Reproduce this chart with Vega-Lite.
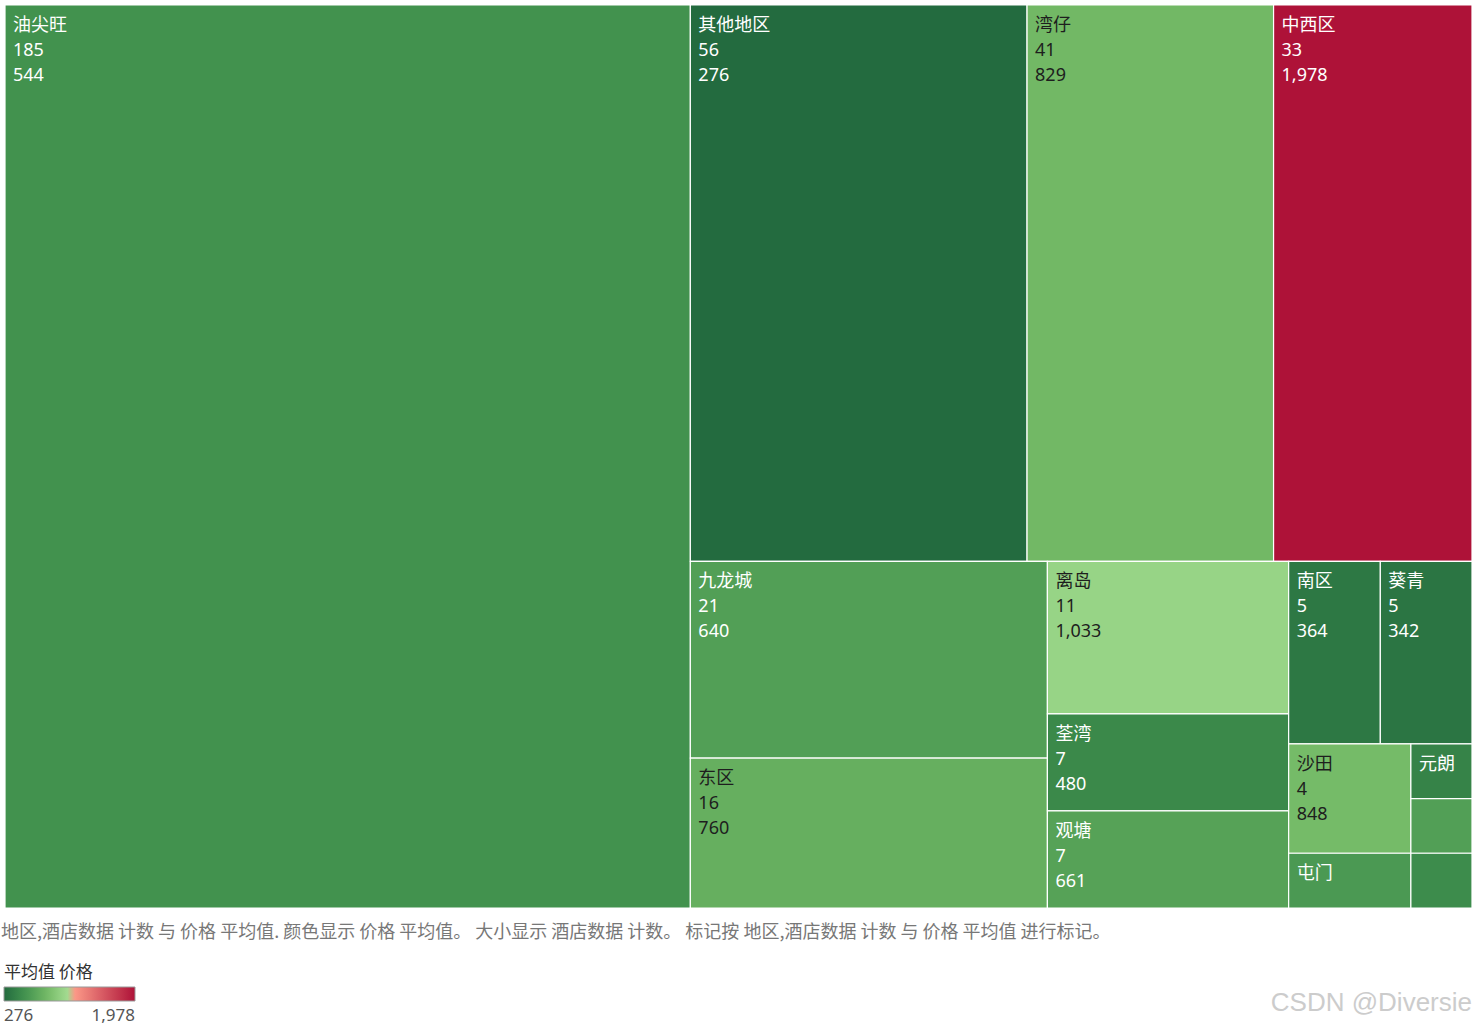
{
  "$schema": "https://vega.github.io/schema/vega-lite/v6.json",
  "width": 1467,
  "height": 903,
  "autosize": {"type": "none"},
  "padding": {"left": 5, "top": 5, "right": 4, "bottom": 121},
  "background": "white",
  "config": {"view": {"stroke": null}},
  "data": {
    "values": [
      {"order": 1, "k1": "A", "k2": "A", "k3": "A", "k4": "A", "k5": "A", "k6": "A", "region": "油尖旺", "count": 185, "price": 544},
      {"order": 2, "k1": "R", "k2": "T", "k3": "其他地区", "k4": "x", "k5": "x", "k6": "x", "region": "其他地区", "count": 56, "price": 276},
      {"order": 3, "k1": "R", "k2": "T", "k3": "湾仔", "k4": "x", "k5": "x", "k6": "x", "region": "湾仔", "count": 41, "price": 829},
      {"order": 4, "k1": "R", "k2": "T", "k3": "中西区", "k4": "x", "k5": "x", "k6": "x", "region": "中西区", "count": 33, "price": 1978},
      {"order": 5, "k1": "R", "k2": "B", "k3": "CA", "k4": "九龙城", "k5": "x", "k6": "x", "region": "九龙城", "count": 21, "price": 640},
      {"order": 6, "k1": "R", "k2": "B", "k3": "CA", "k4": "东区", "k5": "x", "k6": "x", "region": "东区", "count": 16, "price": 760},
      {"order": 7, "k1": "R", "k2": "B", "k3": "CB", "k4": "离岛", "k5": "x", "k6": "x", "region": "离岛", "count": 11, "price": 1033},
      {"order": 8, "k1": "R", "k2": "B", "k3": "CB", "k4": "荃湾", "k5": "x", "k6": "x", "region": "荃湾", "count": 7, "price": 480},
      {"order": 9, "k1": "R", "k2": "B", "k3": "CB", "k4": "观塘", "k5": "x", "k6": "x", "region": "观塘", "count": 7, "price": 661},
      {"order": 10, "k1": "R", "k2": "B", "k3": "CC", "k4": "C1", "k5": "南区", "k6": "x", "region": "南区", "count": 5, "price": 364},
      {"order": 11, "k1": "R", "k2": "B", "k3": "CC", "k4": "C1", "k5": "葵青", "k6": "x", "region": "葵青", "count": 5, "price": 342},
      {"order": 12, "k1": "R", "k2": "B", "k3": "CC", "k4": "C2", "k5": "C2a", "k6": "沙田", "region": "沙田", "count": 4, "price": 848},
      {"order": 13, "k1": "R", "k2": "B", "k3": "CC", "k4": "C2", "k5": "C2a", "k6": "屯门", "region": "屯门", "count": 2, "price": 600},
      {"order": 14, "k1": "R", "k2": "B", "k3": "CC", "k4": "C2", "k5": "C2b", "k6": "元朗", "region": "元朗", "count": 1, "price": 440},
      {"order": 15, "k1": "R", "k2": "B", "k3": "CC", "k4": "C2", "k5": "C2b", "k6": "深水埗", "region": "深水埗", "count": 1, "price": 640},
      {"order": 16, "k1": "R", "k2": "B", "k3": "CC", "k4": "C2", "k5": "C2b", "k6": "黄大仙", "region": "黄大仙", "count": 1, "price": 500}
    ]
  },
  "transform": [
    {"joinaggregate": [{"op": "sum", "field": "count", "as": "t0"}]},
    {"joinaggregate": [{"op": "sum", "field": "count", "as": "t1"}], "groupby": ["k1"]},
    {"window": [{"op": "sum", "field": "count", "as": "w1"}], "sort": [{"field": "order"}], "frame": [null, 0]},
    {"joinaggregate": [{"op": "max", "field": "w1", "as": "e1"}], "groupby": ["k1"]},
    {"joinaggregate": [{"op": "sum", "field": "count", "as": "t2"}], "groupby": ["k1", "k2"]},
    {"window": [{"op": "sum", "field": "count", "as": "w2"}], "groupby": ["k1"], "sort": [{"field": "order"}], "frame": [null, 0]},
    {"joinaggregate": [{"op": "max", "field": "w2", "as": "e2"}], "groupby": ["k1", "k2"]},
    {"joinaggregate": [{"op": "sum", "field": "count", "as": "t3"}], "groupby": ["k1", "k2", "k3"]},
    {"window": [{"op": "sum", "field": "count", "as": "w3"}], "groupby": ["k1", "k2"], "sort": [{"field": "order"}], "frame": [null, 0]},
    {"joinaggregate": [{"op": "max", "field": "w3", "as": "e3"}], "groupby": ["k1", "k2", "k3"]},
    {"joinaggregate": [{"op": "sum", "field": "count", "as": "t4"}], "groupby": ["k1", "k2", "k3", "k4"]},
    {"window": [{"op": "sum", "field": "count", "as": "w4"}], "groupby": ["k1", "k2", "k3"], "sort": [{"field": "order"}], "frame": [null, 0]},
    {"joinaggregate": [{"op": "max", "field": "w4", "as": "e4"}], "groupby": ["k1", "k2", "k3", "k4"]},
    {"joinaggregate": [{"op": "sum", "field": "count", "as": "t5"}], "groupby": ["k1", "k2", "k3", "k4", "k5"]},
    {"window": [{"op": "sum", "field": "count", "as": "w5"}], "groupby": ["k1", "k2", "k3", "k4"], "sort": [{"field": "order"}], "frame": [null, 0]},
    {"joinaggregate": [{"op": "max", "field": "w5", "as": "e5"}], "groupby": ["k1", "k2", "k3", "k4", "k5"]},
    {"joinaggregate": [{"op": "sum", "field": "count", "as": "t6"}], "groupby": ["k1", "k2", "k3", "k4", "k5", "k6"]},
    {"window": [{"op": "sum", "field": "count", "as": "w6"}], "groupby": ["k1", "k2", "k3", "k4", "k5"], "sort": [{"field": "order"}], "frame": [null, 0]},
    {"joinaggregate": [{"op": "max", "field": "w6", "as": "e6"}], "groupby": ["k1", "k2", "k3", "k4", "k5", "k6"]},
    {"calculate": "(datum.e1 - datum.t1) / datum.t0", "as": "xa0"},
    {"calculate": "datum.e1 / datum.t0", "as": "xa1"},
    {"calculate": "(datum.e2 - datum.t2) / datum.t1", "as": "ya0"},
    {"calculate": "datum.e2 / datum.t1", "as": "ya1"},
    {"calculate": "datum.xa0 + (datum.xa1 - datum.xa0) * (datum.e3 - datum.t3) / datum.t2", "as": "xb0"},
    {"calculate": "datum.xa0 + (datum.xa1 - datum.xa0) * datum.e3 / datum.t2", "as": "xb1"},
    {"calculate": "datum.ya0 + (datum.ya1 - datum.ya0) * (datum.e4 - datum.t4) / datum.t3", "as": "yb0"},
    {"calculate": "datum.ya0 + (datum.ya1 - datum.ya0) * datum.e4 / datum.t3", "as": "yb1"},
    {"calculate": "datum.xb0 + (datum.xb1 - datum.xb0) * (datum.e5 - datum.t5) / datum.t4", "as": "x0"},
    {"calculate": "datum.xb0 + (datum.xb1 - datum.xb0) * datum.e5 / datum.t4", "as": "x1"},
    {"calculate": "datum.yb0 + (datum.yb1 - datum.yb0) * (datum.e6 - datum.t6) / datum.t5", "as": "y0"},
    {"calculate": "datum.yb0 + (datum.yb1 - datum.yb0) * datum.e6 / datum.t5", "as": "y1"},
    {"calculate": "datum.count >= 4 ? [datum.region, '' + datum.count, format(datum.price, ',')] : (length(datum.region) <= 2 ? [datum.region] : '')", "as": "label"}
  ],
  "layer": [
    {
      "mark": {"type": "rect", "stroke": "white", "strokeWidth": 1.2},
      "encoding": {
        "x": {"field": "x0", "type": "quantitative", "scale": {"domain": [0, 1], "nice": false, "zero": false}, "axis": null},
        "x2": {"field": "x1"},
        "y": {"field": "y0", "type": "quantitative", "scale": {"domain": [0, 1], "nice": false, "zero": false, "reverse": true}, "axis": null},
        "y2": {"field": "y1"},
        "color": {
          "field": "price",
          "type": "quantitative",
          "scale": {
            "domain": [276, 544, 829, 1033, 1100, 1127, 1155, 1978],
            "range": ["#236b3f", "#42924e", "#72b865", "#97d486", "#a3da90", "#d6d2ca", "#ffa08c", "#ae1238"],
            "interpolate": "rgb"
          },
          "legend": {
            "title": "平均值 价格",
            "orient": "none",
            "legendX": -1,
            "legendY": 960,
            "direction": "horizontal",
            "gradientLength": 131,
            "gradientThickness": 14,
            "gradientStrokeColor": "#999999",
            "gradientStrokeWidth": 1,
            "values": [276, 1978],
            "labelExpr": "format(datum.value, ',')",
            "titleFont": "Noto Sans CJK SC",
            "titleFontSize": 17,
            "titleFontWeight": "normal",
            "titleColor": "#333333",
            "titlePadding": 5,
            "labelFont": "Noto Sans",
            "labelFontSize": 17,
            "labelColor": "#555555",
            "labelOffset": 7
          }
        }
      }
    },
    {
      "mark": {
        "type": "text",
        "align": "left",
        "baseline": "top",
        "xOffset": 8,
        "yOffset": 12,
        "fontSize": 18,
        "lineHeight": 25,
        "font": "Noto Sans, Noto Sans CJK SC"
      },
      "encoding": {
        "x": {"field": "x0", "type": "quantitative"},
        "y": {"field": "y0", "type": "quantitative"},
        "text": {"field": "label"},
        "color": {"condition": {"test": "datum.price >= 700 && datum.price < 1500", "value": "#1e1e1e"}, "value": "#ffffff"}
      }
    },
    {
      "data": {"values": [{"note": "地区,酒店数据 计数 与 价格 平均值. 颜色显示 价格 平均值。 大小显示 酒店数据 计数。 标记按 地区,酒店数据 计数 与 价格 平均值 进行标记。"}]},
      "mark": {"type": "text", "align": "left", "baseline": "middle", "dx": -4, "fontSize": 18, "font": "Noto Sans CJK SC", "color": "#777777"},
      "encoding": {
        "x": {"datum": 0},
        "y": {"datum": 1.0277},
        "text": {"field": "note"}
      }
    },
    {
      "data": {"values": [{"mark": "CSDN @Diversie"}]},
      "mark": {"type": "text", "align": "right", "baseline": "middle", "fontSize": 26, "font": "Liberation Sans", "color": "#cccccc"},
      "encoding": {
        "x": {"datum": 1},
        "y": {"datum": 1.105},
        "text": {"field": "mark"}
      }
    }
  ]
}
